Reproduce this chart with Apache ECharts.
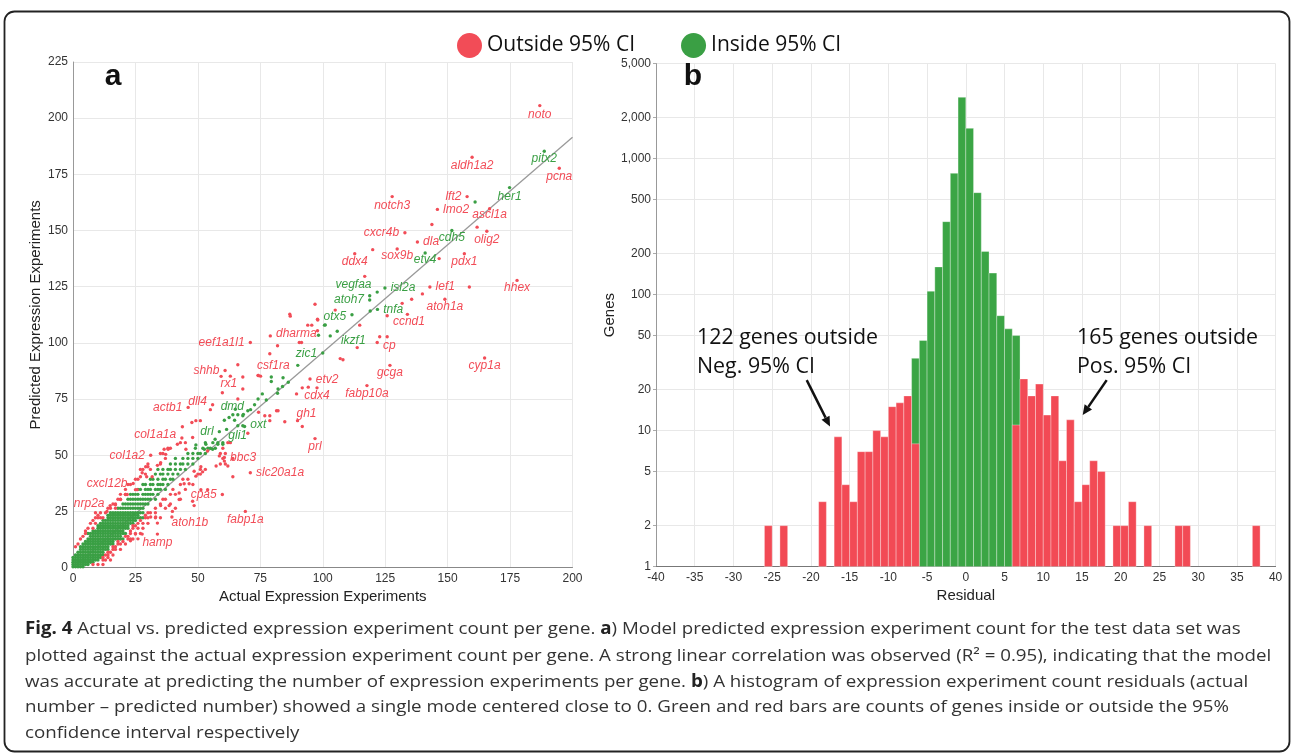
<!DOCTYPE html>
<html><head><meta charset="utf-8">
<script src="https://cdn.jsdelivr.net/npm/echarts@6/dist/echarts.min.js"></script>
<style>html,body{margin:0;padding:0;background:#fff}#c{width:1292px;height:753px}</style>
</head><body><div id="c"></div>
<script>
// ---------- Panel a: scatter data ----------
const rowY = [0.4, 1.4, 2.4, 3.4, 4.5, 5.6, 6.8, 8.1, 9.3, 10.5, 11.6, 12.7, 13.9, 15.2, 16.3, 17.5, 18.6, 19.7, 21.0, 22.2, 23.3, 24.4, 26.4, 28.3, 30.4, 32.6, 34.8, 37.0, 39.3, 41.6, 43.7, 46.1, 48.6, 50.8, 53.1, 55.6];
const greenRowX = [
  [0,1,2,3,4],
  [0,1,2,3,4,5,6],
  [0,1,2,3,4,5,6,7,8],
  [0,1,2,3,4,5,6,7,8,9,10],
  [0,1,2,3,4,5,6,7,8,9,10,11],
  [1,2,3,4,5,6,7,8,9,10,11,12],
  [2,3,4,5,6,7,8,9,10,11,12],
  [3,4,5,6,7,8,9,10,11,12,13,14],
  [3,4,5,6,7,8,9,10,11,12,13,14],
  [4,5,6,7,8,9,10,11,12,13,14,15,16],
  [5,6,7,8,9,10,11,12,13,14,15,16],
  [6,7,8,9,10,11,12,13,14,15,16,17,18,19,20],
  [7,8,9,10,11,12,13,14,15,16,17,18,19],
  [6,7,8,9,10,11,12,13,14,15,16,17,18,19,20,21],
  [8,9,10,11,12,13,14,15,16,17,18,19,20],
  [10,11,12,13,14,15,16,17,18,19,20,21,22],
  [10,11,12,13,14,15,16,17,18,19,20,21,22],
  [11,12,13,14,15,16,17,18,19,20,21,22,23,24],
  [12,13,14,15,16,17,18,19,20,21,22,23,24,25],
  [14,15,16,17,18,19,20,21,22,23,24,25,26,27,28],
  [14,15,16,17,18,19,20,21,22,23,24,25,26],
  [15,16,17,18,19,20,21,22,23,24,25,26,27,28],
  [18,19,20,21,22,23,24,25,26,27,28],
  [20,21,22,23,24,25,26,27,28,29,30],
  [22,23,24,25,26,27,28,29,30,31,33],
  [23,24,25,26,28,29,30,31,32,34],
  [26,27,29,30,31,33,34,35,37],
  [28,29,31,32,34,35,36,38],
  [31,32,34,36,37,39,40],
  [33,35,36,38,40,42],
  [34,36,38,39,41,43,45],
  [39,41,43,44,46,48],
  [41,44,46,48,50],
  [46,48,50,51,53],
  [49,52,54,55,57],
  [53,56,58,60]
];
const redRowX = [
  [],
  [8,10,12],
  [],
  [12,13,15],
  [12,14],
  [13,14,16],
  [14,15],
  [16,17,19],
  [1,16,17],
  [2,18,19,21],
  [18,20],
  [3,22,23,24],
  [4,21,22],
  [5,23,25,27],
  [5,23],
  [6,8,24,26,28],
  [24,25],
  [7,9,26,28,30],
  [8,27],
  [9,10,11,12,29,30,33,35],
  [10,29],
  [9,11,13,30,31,33],
  [14,15,17,33,37,41],
  [16,17,35,39],
  [18,19,36,37,43],
  [19,21,39,41],
  [21,40,45],
  [22,23,43,48],
  [25,26,44,46],
  [29,50,51],
  [27,28,31,51,53],
  [30,35,59,61],
  [37,60,64],
  [35,36,59,61],
  [38,39,60],
  [43,45,62,63]
];
const extraRed = [
  [86.8,112.8],[94.0,107.9],[95.6,107.9],[97.9,110.5],[97.9,105.4],[114.8,107.9],[113.8,97.9],[122.8,102.7],[125.8,102.7],
  [107.0,93.0],[108.1,92.5],[78.8,95.2],[81.9,98.7],[91.5,100.2],[90.6,100.2],[66.0,90.3],[63.0,85.2],[68.0,79.5],[59.8,77.8],
  [66.0,75.0],[55.0,70.3],[51.0,65.4],[49.2,65.4],[47.6,64.6],[43.8,62.7],[47.9,57.9],[41.8,54.9],[45.2,52.7],[36.5,52.7],
  [38.1,52.7],[37.1,50.4],[35.1,46.7],[29.1,44.9],[30.0,44.9],[33.8,45.5],[27.7,42.2],[29.5,40.4],[31.7,40.4],[27.0,40.4],
  [25.0,34.7],[25.7,34.7],[21.7,32.5],[21.0,32.5],[19.0,30.3],[17.0,28.0],[13.6,25.0],
  [53.9,51.9],[58.6,49.7],[60.6,47.4],[62.0,45.2],[64.0,40.4],[57.3,45.2],[51.2,44.9],[51.9,42.6],[48.5,42.9],[49.2,40.7],
  [44.5,37.3],[46.5,37.3],[42.5,33.2],[42.5,30.3],[47.9,29.5],[48.5,27.6],[53.9,34.7],[51.2,34.7],[35.1,27.6],[38.5,27.6],
  [39.8,25.0],[31.1,22.5],[33.1,22.5],[33.8,19.8],[27.7,14.9],[25.0,14.9],[23.0,11.9],[26.0,12.8],
  [76.8,67.6],[78.8,67.6],[78.8,65.4],[81.5,69.8],[82.1,69.8],[84.8,64.9],[91.8,62.8],[89.5,77.3],[91.8,80.0],[94.2,80.3],
  [74.1,85.5],[75.1,85.2],[70.0,59.8],[74.3,69.1],[59.3,85.1],
  [143.7,152.7],[161.8,151.5],[120.0,141.5],[146.6,137.5],[116.8,129.6],[158.7,124.9],[139.9,121.8],[135.6,119.4],
  [131.8,117.6],[133.9,112.7],[96.9,117.2],[105.0,114.6],[87.0,111.9],[98.0,110.2]
];
const extraGreen = [
  [49.2,54.6],[53.2,54.9],[52.6,52.7],[55.9,52.7],[58.0,54.9],[60.0,54.9],[56.9,57.1],[60.6,65.6],[64.0,68.0],[66.0,68.0],
  [68.0,67.6],[64.7,65.6],[68.0,63.1],[66.0,63.1],[70.0,69.8],[71.1,70.3],[72.7,72.5],[74.1,75.0],[75.8,77.3],[77.4,74.6],
  [79.4,82.8],[79.4,84.8],[84.1,84.5],[86.2,82.5],[90.0,90.0],[82.1,79.5],[83.9,80.6],[81.9,77.6],[101.0,108.0],[98.3,103.4],
  [103.0,103.1],[100.7,107.9],[119.0,114.2],[118.8,121.0],[161.0,162.7],[65.0,70.5],[62.5,66.8]
];
const geneNames = ['noto','aldh1a2','pitx2','pcna','her1','lft2','notch3','lmo2','ascl1a','cxcr4b','cdh5','olig2','dla','sox9b','ddx4','etv4','pdx1','vegfaa','isl2a','lef1','hhex','atoh7','tnfa','atoh1a','otx5','ccnd1','dharma','ikzf1','eef1a1l1','cp','zic1','shhb','cyp1a','csf1ra','rx1','etv2','gcga','cdx4','fabp10a','actb1','dll4','dmd','oxt','drl','gli1','col1a1a','col1a2','bbc3','slc20a1a','cxcl12b','cpa5','nrp2a','fabp1a','atoh1b','hamp','gh1','prl'];
const geneActual = [186.9,159.8,188.7,194.7,174.8,157.8,127.8,145.9,166.8,132.9,151.7,165.7,137.9,129.8,112.8,141.0,156.7,121.8,124.9,142.9,177.8,118.8,121.9,148.9,111.7,125.8,79.0,105.8,71.0,121.8,100.0,60.9,164.8,74.2,68.0,94.9,126.9,97.7,117.7,46.1,55.9,68.2,68.7,58.6,61.5,43.6,31.1,60.6,71.0,24.1,59.8,14.9,69.0,39.6,33.8,89.9,96.9];
const genePredicted = [205.6,182.6,185.3,177.7,169.1,165.1,165.1,159.4,159.7,149.0,150.0,149.7,144.9,141.8,139.7,140.0,139.7,122.6,124.4,124.9,127.8,119.1,114.9,119.4,112.5,112.1,103.1,105.2,100.2,100.2,95.5,87.7,93.3,85.5,84.8,83.9,90.0,80.0,81.0,71.3,72.5,68.2,62.8,60.5,61.5,57.7,50.0,49.0,42.2,37.4,32.5,27.6,25.0,22.5,14.9,65.4,57.4];
const geneInside = [0,0,1,0,1,0,0,0,0,0,1,0,0,0,0,1,0,1,1,0,0,1,1,0,1,0,0,1,0,0,1,0,0,0,0,0,0,0,0,0,0,1,1,1,1,0,0,0,0,0,0,0,0,0,0,0,0];
const fitLine = [[0, 0], [200, 191.5]];

// ---------- Panel b: histogram data ----------
const negRedBins = [-26,-24,-19,-17,-16,-15,-14,-13,-12,-11,-10,-9,-8,-7];
const negRedCounts = [2,2,3,9,4,3,7,7,10,9,15,16,18,8];
const greenBins = [-7,-6,-5,-4,-3,-2,-1,0,1,2,3,4,5,6];
const greenCounts = [34,46,106,160,344,780,2826,1671,562,208,144,70,56,50];
const posRedBins = [6,7,8,9,10,11,12,13,14,15,16,17,19,20,21,23,27,28,37];
const posRedCounts = [11,24,18,22,13,18,6,12,3,4,6,5,2,2,3,2,2,2,2];
const histYTicks = [1,2,5,10,20,50,100,200,500,1000,2000,5000];

// ---------- styles ----------
const RED = '#F24C57', GREEN = '#3A9F44';
const HRED = '#F24A55', HGREEN = '#3BA545';
const OUT = 'Outside 95% CI', IN = 'Inside 95% CI';
const labelPlace = {
  noto:['bottom',0,-3], aldh1a2:['bottom',0,-3], pitx2:['bottom',0,-4], pcna:['bottom',0,-3], her1:['bottom',0,-3],
  lft2:['left',0,0], notch3:['bottom',0,-3], lmo2:['right',0,0], ascl1a:['bottom',0,-6], cxcr4b:['left',0,0],
  cdh5:['bottom',0,-5], olig2:['bottom',0,-3], dla:['right',0,0], sox9b:['bottom',0,-5], ddx4:['bottom',0,-4],
  etv4:['bottom',0,-5], pdx1:['bottom',0,-4], vegfaa:['left',0,-7], isl2a:['right',0,0], lef1:['right',0,0],
  hhex:['bottom',0,-4], atoh7:['left',0,0], tnfa:['right',0,0], atoh1a:['bottom',0,-4], otx5:['left',0,2],
  ccnd1:['right',0,6], dharma:['right',0,-2], ikzf1:['right',-2,9], eef1a1l1:['left',0,0], cp:['right',0,3],
  zic1:['left',0,1], shhb:['left',0,0], cyp1a:['bottom',0,-4], csf1ra:['top',15,2], rx1:['left',0,7],
  etv2:['right',0,1], gcga:['bottom',0,-4], cdx4:['bottom',0,-4], fabp10a:['bottom',0,-4], actb1:['left',0,0],
  dll4:['left',0,-3], dmd:['top',-11,4], oxt:['right',0,-2], drl:['left',0,0], gli1:['right',-4,6],
  col1a1a:['left',0,-3], col1a2:['left',0,0], bbc3:['right',0,0], slc20a1a:['right',0,0], cxcl12b:['left',0,0],
  cpa5:['left',0,0], nrp2a:['left',0,-2], fabp1a:['bottom',0,-3], atoh1b:['bottom',18,-6], hamp:['bottom',0,-3],
  gh1:['top',9,5], prl:['bottom',0,-4]
};

// ---------- build series data ----------
const outData = [], inData = [];
rowY.forEach((y, i) => {
  greenRowX[i].forEach(x => inData.push([x, y]));
  redRowX[i].forEach(x => outData.push([x, y]));
});
extraRed.forEach(p => outData.push(p));
extraGreen.forEach(p => inData.push(p));
geneNames.forEach((n, i) => {
  const pl = labelPlace[n];
  const item = {
    name: n, value: [geneActual[i], genePredicted[i]],
    label: { show: true, formatter: n, position: pl[0], offset: [pl[1], pl[2]],
      color: geneInside[i] ? GREEN : RED, fontStyle: 'italic', fontSize: 12,
      fontFamily: 'Liberation Sans, Arial, sans-serif', distance: 4 }
  };
  (geneInside[i] ? inData : outData).push(item);
});
const toPairs = (b, c) => b.map((v, i) => [v, c[i]]);
const histRed = toPairs(negRedBins, negRedCounts).concat(toPairs(posRedBins, posRedCounts));
const histGreen = toPairs(greenBins, greenCounts);
function barRender(color) {
  return function (params, api) {
    const x0 = api.value(0), c = api.value(1);
    const p0 = api.coord([x0, 1]);
    const p1 = api.coord([x0 + 1, c]);
    return { type: 'rect',
      shape: { x: p0[0], y: p1[1], width: p1[0] - p0[0], height: p0[1] - p1[1] },
      style: { fill: color, stroke: 'rgba(255,255,255,0.55)', lineWidth: 0.6 } };
  };
}

// ---------- text helpers ----------
const mctx = document.createElement('canvas').getContext('2d');
function fitScale(text, font, target) { mctx.font = font; return target / mctx.measureText(text).width; }
const capFont = '17px "Open Sans"';
const capScale = fitScale('number \u2013 predicted number) showed a single mode centered close to 0. Green and red bars are counts of genes inside or outside the 95%', capFont, 1204);
const annFont = '22px "Open Sans"';
const annScale = fitScale('122 genes outside', annFont, 181);
const capLines = [
  '{b|Fig. 4} Actual vs. predicted expression experiment count per gene. {b|a}) Model predicted expression experiment count for the test data set was',
  'plotted against the actual expression experiment count per gene. A strong linear correlation was observed (R\u00B2 = 0.95), indicating that the model',
  'was accurate at predicting the number of expression experiments per gene. {b|b}) A histogram of expression experiment count residuals (actual',
  'number \u2013 predicted number) showed a single mode centered close to 0. Green and red bars are counts of genes inside or outside the 95%',
  'confidence interval respectively'
];
const capY = [629.5, 656, 682, 707.5, 733.5];

const axisText = { color: '#333', fontSize: 12, fontFamily: 'Liberation Sans, Arial, sans-serif' };
const nameText = { color: '#222', fontSize: 15, fontFamily: 'Liberation Sans, Arial, sans-serif' };
const split = { show: true, lineStyle: { color: '#e8e8e8', width: 1 } };

const chart = echarts.init(document.getElementById('c'), null, { renderer: 'canvas' });
const graphics = [
  { type: 'rect', shape: { x: 4.5, y: 11.5, width: 1285, height: 740, r: 10 }, style: { fill: 'none', stroke: '#222', lineWidth: 1.8 }, z: 100 },
  { type: 'text', x: 113, y: 77, style: { text: 'a', font: 'bold 30px "Liberation Sans", Arial', fill: '#111', textAlign: 'center', textVerticalAlign: 'middle' }, z: 100 },
  { type: 'text', x: 693, y: 77, style: { text: 'b', font: 'bold 30px "Liberation Sans", Arial', fill: '#111', textAlign: 'center', textVerticalAlign: 'middle' }, z: 100 },
  { type: 'text', x: 697, y: 338, scaleX: annScale, originX: 0, style: { text: '122 genes outside', font: annFont, fill: '#111', textVerticalAlign: 'middle' }, z: 100 },
  { type: 'text', x: 697, y: 367, scaleX: annScale, originX: 0, style: { text: 'Neg. 95% CI', font: annFont, fill: '#111', textVerticalAlign: 'middle' }, z: 100 },
  { type: 'text', x: 1077, y: 338, scaleX: annScale, originX: 0, style: { text: '165 genes outside', font: annFont, fill: '#111', textVerticalAlign: 'middle' }, z: 100 },
  { type: 'text', x: 1077, y: 367, scaleX: annScale, originX: 0, style: { text: 'Pos. 95% CI', font: annFont, fill: '#111', textVerticalAlign: 'middle' }, z: 100 }
];
capLines.forEach((t, i) => {
  graphics.push({ type: 'text', x: 25, y: capY[i], scaleX: capScale, originX: 0,
    style: { text: t, font: capFont, fill: '#333', textVerticalAlign: 'middle',
      rich: { b: { fontWeight: 'bold', fontSize: 17, fontFamily: 'Open Sans', fill: '#222' } } }, z: 100 });
});

chart.setOption({
  animation: false,
  backgroundColor: '#fff',
  legend: {
    data: [{ name: OUT, icon: 'circle' }, { name: IN, icon: 'circle' }],
    left: 452, top: 28, itemWidth: 25, itemHeight: 25, itemGap: 46,
    textStyle: { fontSize: 21, fontFamily: 'Open Sans', color: '#111' }
  },
  grid: [
    { left: 73, top: 62, width: 499.5, height: 505.6 },
    { left: 656, top: 63.6, width: 619.6, height: 503 }
  ],
  xAxis: [
    { type: 'value', gridIndex: 0, min: 0, max: 200, interval: 25,
      axisLine: { lineStyle: { color: '#888' } }, axisTick: { show: false },
      axisLabel: Object.assign({ margin: 5 }, axisText), splitLine: split,
      name: 'Actual Expression Experiments', nameLocation: 'middle', nameGap: 18, nameTextStyle: nameText },
    { type: 'value', gridIndex: 1, min: -40, max: 40, interval: 5,
      axisLine: { lineStyle: { color: '#777' } }, axisTick: { show: false },
      axisLabel: Object.assign({ margin: 5 }, axisText), splitLine: split,
      name: 'Residual', nameLocation: 'middle', nameGap: 20, nameTextStyle: nameText }
  ],
  yAxis: [
    { type: 'value', gridIndex: 0, min: 0, max: 225, interval: 25,
      axisLine: { show: true, onZero: false, lineStyle: { color: '#999' } }, axisTick: { show: false },
      axisLabel: Object.assign({ margin: 5 }, axisText), splitLine: split,
      name: 'Predicted Expression Experiments', nameLocation: 'middle', nameGap: 30, nameTextStyle: nameText },
    { type: 'log', gridIndex: 1, min: 1, max: 5000, logBase: 10,
      axisLine: { show: true, onZero: false, lineStyle: { color: '#999' } },
      axisTick: { show: true, length: 3, customValues: histYTicks, lineStyle: { color: '#aaa' } },
      axisLabel: Object.assign({ margin: 5, customValues: histYTicks, formatter: v => Number(v).toLocaleString('en-US') }, axisText),
      splitLine: split, minorSplitLine: { show: false },
      name: 'Genes', nameLocation: 'middle', nameGap: 27, nameTextStyle: nameText }
  ],
  series: [
    { name: 'fit', type: 'line', xAxisIndex: 0, yAxisIndex: 0, data: fitLine, showSymbol: false, silent: true,
      lineStyle: { color: '#999', width: 1.3 }, z: 1 },
    { name: IN, type: 'scatter', xAxisIndex: 0, yAxisIndex: 0, data: inData, symbolSize: 3.4,
      itemStyle: { color: GREEN, opacity: 1 }, z: 3 },
    { name: OUT, type: 'scatter', xAxisIndex: 0, yAxisIndex: 0, data: outData, symbolSize: 3.4,
      itemStyle: { color: RED, opacity: 1 }, z: 3 },
    { name: IN, type: 'custom', xAxisIndex: 1, yAxisIndex: 1, data: histGreen, renderItem: barRender(HGREEN),
      itemStyle: { color: HGREEN }, encode: { x: 0, y: 1 }, z: 2 },
    { name: OUT, type: 'custom', xAxisIndex: 1, yAxisIndex: 1, data: histRed, renderItem: barRender(HRED),
      itemStyle: { color: HRED }, encode: { x: 0, y: 1 }, z: 3 }
  ],
  graphic: graphics
});

// arrows (annotation), positioned through the histogram's scales
const arrowData = [[[-20.54, 23.5], [-17.53, 10.7]], [[18.19, 23.5], [15.09, 13.0]]];
const arrowGraphics = [];
arrowData.forEach(a => {
  const p0 = chart.convertToPixel({ xAxisIndex: 1, yAxisIndex: 1 }, a[0]);
  const p1 = chart.convertToPixel({ xAxisIndex: 1, yAxisIndex: 1 }, a[1]);
  const dx = p1[0] - p0[0], dy = p1[1] - p0[1], L = Math.hypot(dx, dy);
  const ux = dx / L, uy = dy / L, hl = 10, hw = 4.5;
  const bx = p1[0] - ux * hl, by = p1[1] - uy * hl;
  arrowGraphics.push({ type: 'line', shape: { x1: p0[0], y1: p0[1], x2: bx, y2: by }, style: { stroke: '#111', lineWidth: 2.5 }, z: 100 });
  arrowGraphics.push({ type: 'polygon', shape: { points: [[p1[0], p1[1]], [bx - uy * hw, by + ux * hw], [bx + uy * hw, by - ux * hw]] }, style: { fill: '#111' }, z: 100 });
});
chart.setOption({ graphic: graphics.concat(arrowGraphics) });
</script></body></html>
